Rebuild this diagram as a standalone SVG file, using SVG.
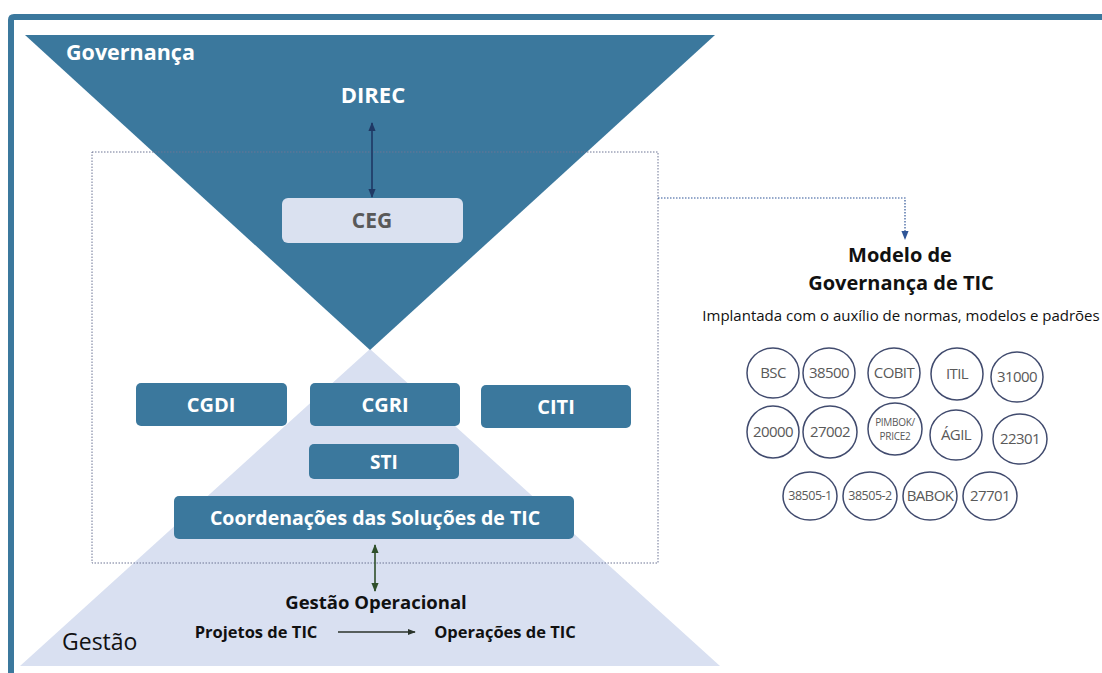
<svg xmlns="http://www.w3.org/2000/svg" width="1102" height="673" viewBox="0 0 1102 673">
<defs>
<style>
.t{font-family:"Open Sans","Liberation Sans",sans-serif}
.w{fill:#ffffff;font-weight:bold}
.box{fill:#3b789d}
.circ{fill:#ffffff;stroke:#414b6e;stroke-width:1.5}
.ct{font-family:"Open Sans","Liberation Sans",sans-serif;font-size:15px;letter-spacing:-0.6px;fill:#595959;text-anchor:middle}
.ct.sm{font-size:10px;letter-spacing:-0.3px}
.ct.md{font-size:12.5px;letter-spacing:-0.5px}
.blk{fill:#111111;font-weight:bold}
</style>
<marker id="navy" viewBox="0 0 10 10" refX="9" refY="5" markerWidth="9" markerHeight="9" orient="auto-start-reverse" markerUnits="userSpaceOnUse"><path d="M0,1 L10,5 L0,9 z" fill="#1f3864"/></marker>
<marker id="green" viewBox="0 0 10 10" refX="9" refY="5" markerWidth="9" markerHeight="9" orient="auto-start-reverse" markerUnits="userSpaceOnUse"><path d="M0,1 L10,5 L0,9 z" fill="#2f4f2a"/></marker>
<marker id="blk" viewBox="0 0 10 10" refX="9" refY="5" markerWidth="8" markerHeight="8" orient="auto" markerUnits="userSpaceOnUse"><path d="M0,1 L10,5 L0,9 z" fill="#2a332a"/></marker>
<marker id="blue" viewBox="0 0 10 10" refX="9" refY="5" markerWidth="9" markerHeight="9" orient="auto" markerUnits="userSpaceOnUse"><path d="M0,1 L10,5 L0,9 z" fill="#2f5597"/></marker>
</defs>
<rect x="0" y="0" width="1102" height="673" fill="#ffffff"/>
<path d="M11,680 L11,20 Q11,17 14,17 L1110,17" fill="none" stroke="#3b789d" stroke-width="6"/>

<g id="gestao-triangle">
<polygon points="370,349 720,666 20,666" fill="#d9e0f1"/>
<text class="t" x="62" y="650" font-size="23" fill="#111111">Gestão</text>
</g>
<g id="governanca-triangle">
<polygon points="25,35 715,35 370,350" fill="#3b789d"/>
<text class="t w" x="66" y="60" font-size="21.5">Governança</text>
</g>

<g id="scope-box">
<rect x="92" y="152" width="566" height="411" fill="none" stroke="#6d7494" stroke-width="1" stroke-dasharray="1.5,1.5"/>
</g>

<g id="connectors">
<line x1="372" y1="123" x2="372" y2="197" stroke="#1f3864" stroke-width="1.6" marker-start="url(#navy)" marker-end="url(#navy)"/>
<line x1="375" y1="545" x2="375" y2="591" stroke="#2f4f2a" stroke-width="1.6" marker-start="url(#green)" marker-end="url(#green)"/>
<line x1="338" y1="632" x2="415" y2="632" stroke="#2a332a" stroke-width="1.4" marker-end="url(#blk)"/>
<polyline points="658,198 905,198 905,239" fill="none" stroke="#2f5597" stroke-width="1.2" stroke-dasharray="1.5,1.5" marker-end="url(#blue)"/>
</g>

<g id="direc"><text class="t w" x="373" y="103" font-size="22" text-anchor="middle">DIREC</text></g>
<g id="ceg">
<rect x="282" y="198" width="181" height="45" rx="6" fill="#dae1f0"/>
<text class="t" x="372" y="228" font-size="21" font-weight="bold" fill="#595959" text-anchor="middle">CEG</text>
</g>
<g id="cgdi">
<rect class="box" x="136" y="383" width="151" height="43" rx="5"/>
<text class="t w" x="211" y="412" font-size="20" text-anchor="middle">CGDI</text>
</g>
<g id="cgri">
<rect class="box" x="310" y="383" width="150" height="43" rx="5"/>
<text class="t w" x="385" y="412" font-size="20" text-anchor="middle">CGRI</text>
</g>
<g id="citi">
<rect class="box" x="481" y="385" width="150" height="43" rx="5"/>
<text class="t w" x="556" y="414" font-size="20" text-anchor="middle">CITI</text>
</g>
<g id="sti">
<rect class="box" x="309" y="444" width="150" height="35" rx="5"/>
<text class="t w" x="384" y="469" font-size="19" text-anchor="middle">STI</text>
</g>
<g id="coordenacoes">
<rect class="box" x="174" y="496" width="400" height="43" rx="5"/>
<text class="t w" x="375" y="525" font-size="19.5" text-anchor="middle">Coordenações das Soluções de TIC</text>
</g>

<g id="gestao-operacional"><text class="t blk" x="376" y="609" font-size="18.5" text-anchor="middle">Gestão Operacional</text></g>
<g id="projetos"><text class="t blk" x="256" y="638" font-size="16.5" text-anchor="middle">Projetos de TIC</text></g>
<g id="operacoes"><text class="t blk" x="505" y="638" font-size="16.5" text-anchor="middle">Operações de TIC</text></g>

<g id="modelo">
<text class="t blk" x="900" y="262" font-size="20" text-anchor="middle">Modelo de</text>
<text class="t blk" x="901" y="290" font-size="20" text-anchor="middle">Governança de TIC</text>
<text class="t" x="901" y="321" font-size="15" fill="#111111" text-anchor="middle">Implantada com o auxílio de normas, modelos e padrões</text>
</g>

<g id="padroes">
<g id="c-bsc"><ellipse class="circ" cx="773" cy="373" rx="26" ry="25"/><text class="ct" x="773" y="378">BSC</text></g>
<g id="c-38500"><ellipse class="circ" cx="829" cy="373" rx="26" ry="25"/><text class="ct" x="829" y="378">38500</text></g>
<g id="c-cobit"><ellipse class="circ" cx="894" cy="373" rx="26" ry="25"/><text class="ct" x="894" y="378">COBIT</text></g>
<g id="c-itil"><ellipse class="circ" cx="957" cy="374" rx="26" ry="26"/><text class="ct" x="957" y="379">ITIL</text></g>
<g id="c-31000"><ellipse class="circ" cx="1017" cy="377" rx="26" ry="25"/><text class="ct" x="1017" y="382">31000</text></g>
<g id="c-20000"><ellipse class="circ" cx="773" cy="432" rx="26" ry="26"/><text class="ct" x="773" y="437">20000</text></g>
<g id="c-27002"><ellipse class="circ" cx="830" cy="432" rx="27" ry="26"/><text class="ct" x="830" y="437">27002</text></g>
<g id="c-pimbok"><ellipse class="circ" cx="895" cy="429" rx="27" ry="26"/><text class="ct sm" x="895" y="426">PIMBOK/</text><text class="ct sm" x="895" y="440">PRICE2</text></g>
<g id="c-agil"><ellipse class="circ" cx="956" cy="435" rx="26" ry="25"/><text class="ct" x="956" y="440">ÁGIL</text></g>
<g id="c-22301"><ellipse class="circ" cx="1020" cy="439" rx="27" ry="25"/><text class="ct" x="1020" y="444">22301</text></g>
<g id="c-38505-1"><ellipse class="circ" cx="810" cy="496" rx="27" ry="24"/><text class="ct md" x="810" y="500">38505-1</text></g>
<g id="c-38505-2"><ellipse class="circ" cx="870" cy="496" rx="27" ry="24"/><text class="ct md" x="870" y="500">38505-2</text></g>
<g id="c-babok"><ellipse class="circ" cx="930" cy="496" rx="27" ry="24"/><text class="ct" x="930" y="501">BABOK</text></g>
<g id="c-27701"><ellipse class="circ" cx="990" cy="496" rx="27" ry="24"/><text class="ct" x="990" y="501">27701</text></g>
</g>
</svg>
